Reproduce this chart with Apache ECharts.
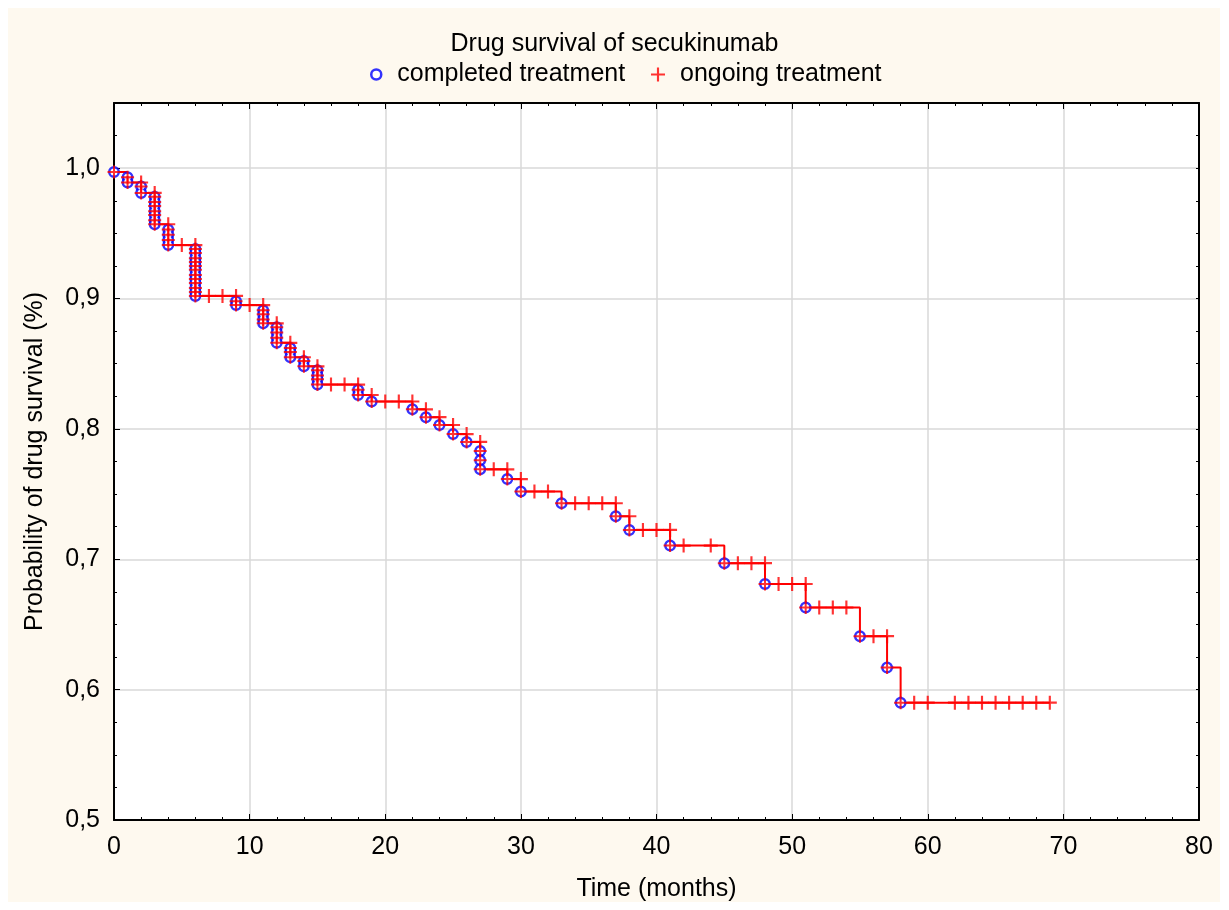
<!DOCTYPE html>
<html><head><meta charset="utf-8">
<script src="https://cdn.jsdelivr.net/npm/echarts@6/dist/echarts.min.js"></script>
<style>
html,body{margin:0;padding:0;background:#fff;}
#bg{position:absolute;left:8px;top:8px;width:1212px;height:894px;background:#fef9ef;}
#chart{position:absolute;left:0;top:0;width:1229px;height:910px;}
</style></head><body>
<div id="bg"></div><div id="chart"></div>
<script>
// Event times (completed treatment): [time in months, survival probability]
const completed = [
  [0,0.997],
  [1,0.993],[1,0.989],
  [2,0.986],[2,0.981],
  [3,0.978],[3,0.974],[3,0.971],[3,0.967],[3,0.964],[3,0.960],[3,0.957],
  [4,0.953],[4,0.949],[4,0.945],[4,0.941],
  [6,0.938],[6,0.935],[6,0.931],[6,0.928],[6,0.925],[6,0.922],[6,0.918],[6,0.915],[6,0.912],[6,0.908],[6,0.905],[6,0.902],
  [9,0.898],[9,0.895],
  [11,0.891],[11,0.888],[11,0.884],[11,0.881],
  [12,0.878],[12,0.874],[12,0.870],[12,0.866],
  [13,0.862],[13,0.859],[13,0.855],
  [14,0.852],[14,0.848],
  [15,0.845],[15,0.841],[15,0.838],[15,0.834],
  [18,0.830],[18,0.826],
  [19,0.821],
  [22,0.815],[23,0.809],[24,0.803],[25,0.796],[26,0.790],
  [27,0.783],[27,0.776],[27,0.769],
  [29,0.7615],[30,0.752],[33,0.743],[37,0.733],[38,0.7225],[41,0.7105],
  [45,0.697],[48,0.681],[51,0.663],[55,0.641],[57,0.617],[58,0.590]
];
// Censored observations (ongoing treatment)
const ongoing = [
  [2,0.989],[3,0.981],[4,0.957],[5,0.941],[6,0.941],
  [7,0.902],[8,0.902],[9,0.902],
  [10,0.895],[11,0.895],
  [12,0.881],[13,0.866],[14,0.855],[15,0.848],
  [16,0.834],[17,0.834],[18,0.834],
  [19,0.826],
  [20,0.821],[21,0.821],[22,0.821],
  [23,0.815],[24,0.809],[25,0.803],[26,0.796],[27,0.790],
  [28,0.769],[29,0.769],[30,0.7615],[31,0.752],[32,0.752],
  [34,0.743],[35,0.743],[36,0.743],[37,0.743],[38,0.733],
  [39,0.7225],[40,0.7225],[41,0.7225],
  [42,0.7105],[44,0.7105],
  [46,0.697],[47,0.697],[48,0.697],
  [49,0.681],[50,0.681],[51,0.681],
  [52,0.663],[53,0.663],[54,0.663],
  [56,0.641],[57,0.641],
  [59,0.590],[60,0.590],[62,0.590],[63,0.590],[64,0.590],[65,0.590],[66,0.590],[67,0.590],[68,0.590],[69,0.590]
];
const startPoint = [0, 1.0];
const titleText = 'Drug survival of secukinumab';
const legendNames = ['completed treatment', 'ongoing treatment'];
const xName = 'Time (months)';
const yName = 'Probability of drug survival (%)';

const lastCensor = ongoing[ongoing.length - 1];
const lastEvent = completed[completed.length - 1];
const lineData = [startPoint].concat(completed).concat([[lastCensor[0], lastEvent[1]]]);

const FONT = 'Liberation Sans, Arial, sans-serif';
const TXT = {fontFamily: FONT, fontSize: 25, color: '#000'};
const CROSS = 'path://M5.5,0H7.5V5.5H13V7.5H7.5V13H5.5V7.5H0V5.5H5.5Z';
const RED = '#ff0000', BLUE = '#0000ff';

const black = {color: '#000', width: 2};
const chart = echarts.init(document.getElementById('chart'), null, {renderer: 'canvas'});
chart.setOption({
  animation: false,
  backgroundColor: 'transparent',
  title: {text: titleText, left: 'center', top: 27, textStyle: Object.assign({fontWeight: 'normal'}, TXT)},
  legend: [
    {left: 365, top: 57, itemWidth: 32, itemHeight: 10, selectedMode: false, textStyle: TXT,
     data: [{name: legendNames[0], icon: 'circle', itemStyle: {color: '#fff', borderColor: BLUE, borderWidth: 2.5}}]},
    {left: 646, top: 57, itemWidth: 34, itemHeight: 14, selectedMode: false, textStyle: TXT,
     data: [{name: legendNames[1], icon: CROSS, itemStyle: {color: RED, borderWidth: 0}}]}
  ],
  grid: {left: 114, right: 30, top: 103, bottom: 90, show: true, backgroundColor: '#fff', borderWidth: 0, outerBoundsMode: 'none'},
  xAxis: [
    {type: 'value', position: 'bottom', min: 0, max: 80, interval: 10,
     axisLine: {show: true, onZero: false, lineStyle: black},
     axisTick: {show: true, inside: true, length: 6, lineStyle: {color: '#000', width: 1}},
     minorTick: {show: true, splitNumber: 5, length: 3, lineStyle: {color: '#000', width: 1}},
     splitLine: {show: true, lineStyle: {color: '#d9d9d9', width: 1.5}},
     axisLabel: Object.assign({margin: 15}, TXT),
     name: xName, nameLocation: 'middle', nameGap: 57, nameTextStyle: TXT},
    {type: 'value', position: 'top', min: 0, max: 80, interval: 10,
     axisLine: {show: true, onZero: false, lineStyle: black},
     axisTick: {show: true, inside: true, length: 6, lineStyle: {color: '#000', width: 1}},
     minorTick: {show: true, splitNumber: 5, length: 3, lineStyle: {color: '#000', width: 1}},
     splitLine: {show: false}, axisLabel: {show: false}}
  ],
  yAxis: [
    {type: 'value', position: 'left', min: 0.5, max: 1.05, interval: 0.1,
     axisLine: {show: true, onZero: false, lineStyle: black},
     axisTick: {show: true, inside: true, length: 6, lineStyle: {color: '#000', width: 1}},
     splitLine: {show: true, lineStyle: {color: '#d9d9d9', width: 1.5}},
     axisLabel: Object.assign({margin: 14, formatter: v => v > 1.001 ? '' : v.toFixed(1).replace('.', ',')}, TXT),
     name: yName, nameLocation: 'middle', nameGap: 66, nameTextStyle: TXT},
    {type: 'value', position: 'left', min: 0.5, max: 1.05, interval: 0.025,
     axisLine: {show: false},
     axisTick: {show: true, inside: true, length: 3, lineStyle: {color: '#000', width: 1}},
     splitLine: {show: false}, axisLabel: {show: false}},
    {type: 'value', position: 'right', min: 0.5, max: 1.05, interval: 0.025,
     axisLine: {show: true, onZero: false, lineStyle: black},
     axisTick: {show: true, inside: true, length: 3, lineStyle: {color: '#000', width: 1}},
     splitLine: {show: false}, axisLabel: {show: false}}
  ],
  series: [
    {type: 'line', name: 'km', data: lineData, step: 'end', showSymbol: false, symbol: 'none',
     lineStyle: {color: RED, width: 2}, silent: true, z: 2},
    {type: 'scatter', name: legendNames[0], data: completed, symbol: 'circle', symbolSize: 9.5,
     itemStyle: {color: '#fff', borderColor: BLUE, borderWidth: 2.5}, silent: true, z: 3},
    {type: 'scatter', name: 'fill', data: completed, symbol: 'circle', symbolSize: 6.5,
     itemStyle: {color: '#fff', borderWidth: 0}, silent: true, z: 4},
    {type: 'scatter', name: 'eventCross', data: completed, symbol: CROSS, symbolSize: 13,
     itemStyle: {color: RED, borderWidth: 0}, silent: true, z: 5},
    {type: 'scatter', name: legendNames[1], data: ongoing, symbol: CROSS, symbolSize: 14,
     itemStyle: {color: RED, borderWidth: 0}, silent: true, z: 6}
  ]
});
</script>
</body></html>
